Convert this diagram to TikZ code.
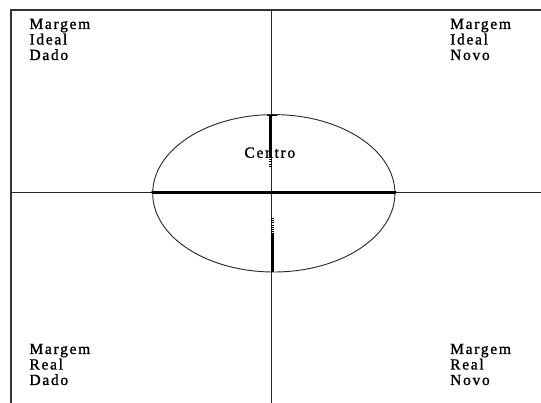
\documentclass[tikz,border=0pt]{standalone}
\usepackage{fontspec}
\newfontfamily\lblfont[LetterSpace=11,FakeBold=1.2]{Liberation Serif}
\begin{document}
\begin{tikzpicture}[x=1pt,y=-1pt,
  axis/.style={draw=black!85,line width=1.3pt},
  frame/.style={draw=black!80,line width=1.5pt},
  thickbar/.style={draw=black,line width=2.6pt},
  dotbar/.style={draw=black,line width=2.6pt,dash pattern=on 1pt off 1.2pt},
  lbl/.style={anchor=base west,inner sep=0pt,font=\lblfont\fontsize{15.5}{15.5}\selectfont}]
\useasboundingbox (0,0) rectangle (541,403);
\fill[white] (0,0) rectangle (541,403);
% frame
\coordinate (tl) at (11,10);
\coordinate (tr) at (541,10);
\coordinate (bl) at (11,403);
\draw[frame] (tr) -- (tl) -- (bl);
% axes
\coordinate (vt) at (271.7,10);
\coordinate (vb) at (271.7,403);
\coordinate (hl) at (11,192.3);
\coordinate (hr) at (541,192.3);
\draw[axis] (vt) -- (vb);
\draw[axis] (hl) -- (hr);
% ellipse
\coordinate (c) at (273.8,193.3);
\draw[draw=black!85,line width=0.9pt] (c) ellipse [x radius=121.1, y radius=78.7];
% thick horizontal diameter
\coordinate (el) at (152.7,192.3);
\coordinate (er) at (395,192.3);
\draw[thickbar] (el) -- (er);
\fill (el) circle (1.8);
\fill (er) circle (1.8);
% upper thick vertical
\coordinate (ut) at (270.3,115.5);
\coordinate (um) at (270.3,157);
\coordinate (ub) at (270.3,167);
\draw[thickbar] (ut) -- (um);
\draw[dotbar] (um) -- (ub);
\coordinate (capl) at (266.5,115.5);
\coordinate (capr) at (276.5,115.5);
\draw[draw=black,line width=1pt] (capl) -- (capr);
% lower thick vertical
\coordinate (lt) at (272.6,218);
\coordinate (lm) at (272.6,233);
\coordinate (lb) at (272.6,272.5);
\draw[dotbar] (lt) -- (lm);
\draw[thickbar] (lm) -- (lb);
% labels
\node[lbl] (ntl) at (29.3,29) {\vtop{\hbox{Margem}\hbox{Ideal}\hbox{Dado}}};
\node[lbl] (ntr) at (450,29) {\vtop{\hbox{Margem}\hbox{Ideal}\hbox{Novo}}};
\node[lbl] (nbl) at (29.3,354) {\vtop{\hbox{Margem}\hbox{Real}\hbox{Dado}}};
\node[lbl] (nbr) at (450,354) {\vtop{\hbox{Margem}\hbox{Real}\hbox{Novo}}};
\node[lbl] (centro) at (244.3,157.7) {Centro};
\end{tikzpicture}
\end{document}
